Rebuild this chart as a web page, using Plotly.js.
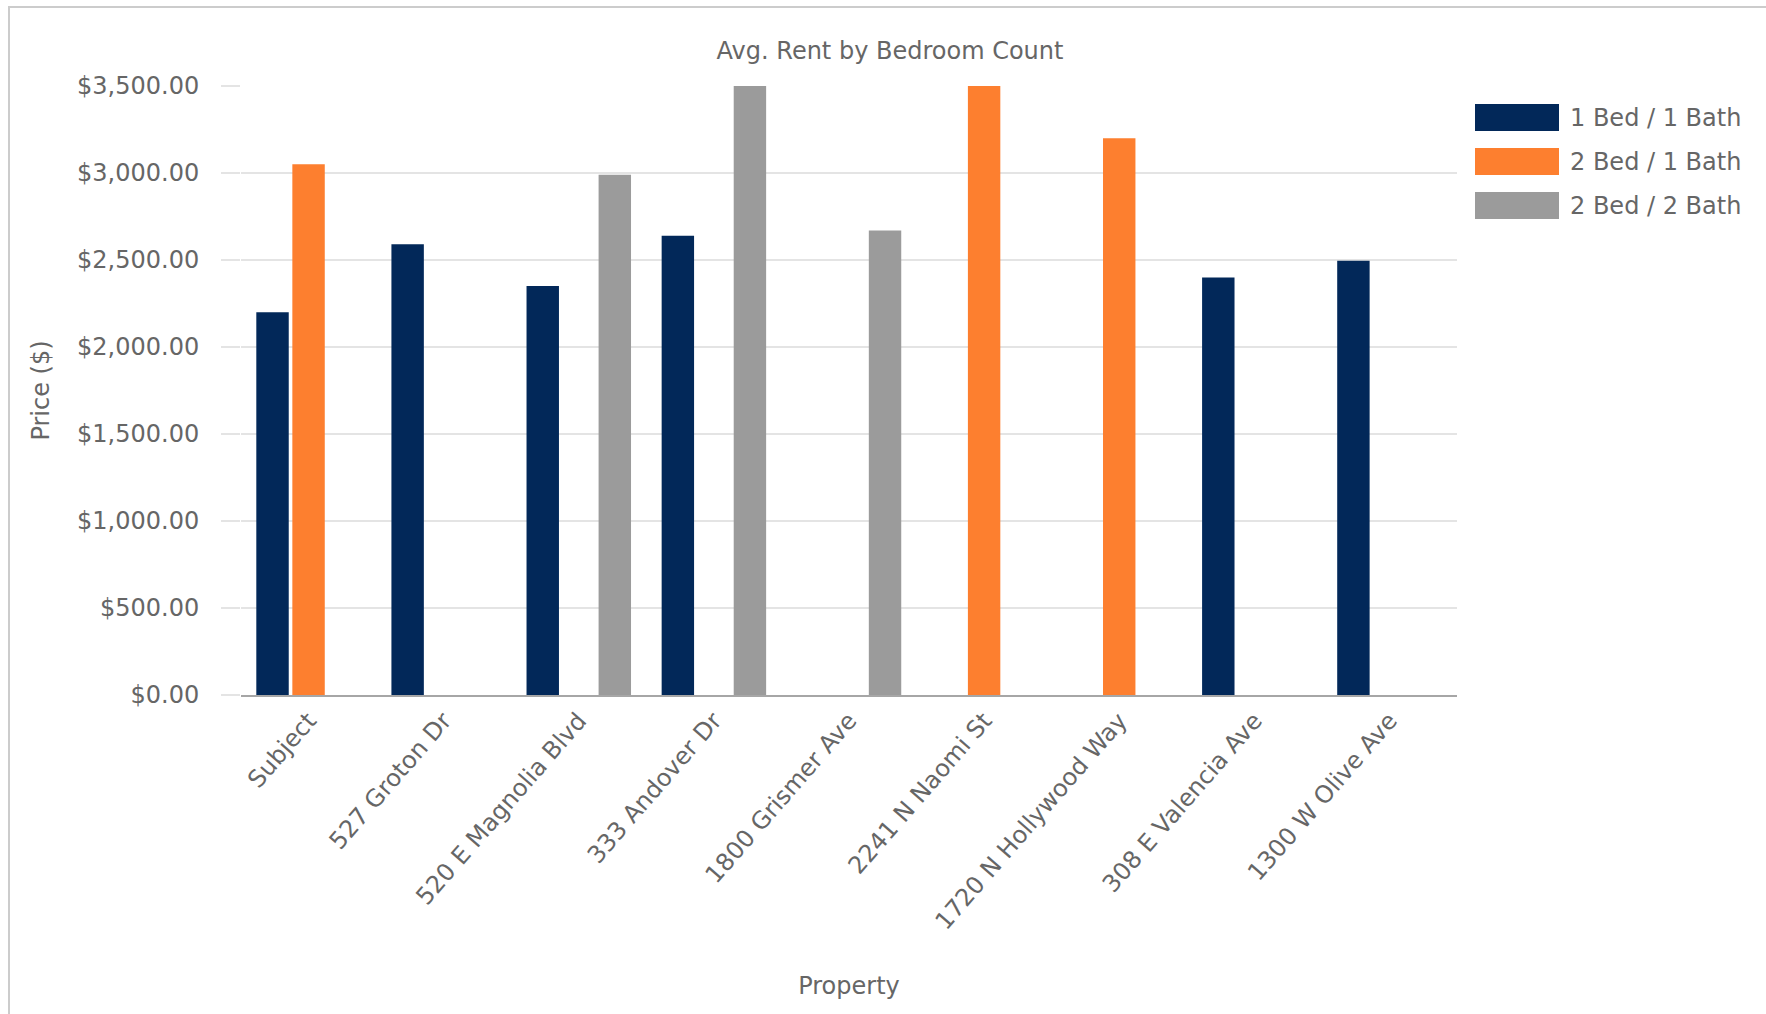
<!DOCTYPE html>
<html>
<head>
<meta charset="utf-8">
<script src="https://cdn.plot.ly/plotly-3.0.1.min.js"></script>
<style>
  html, body { margin: 0; padding: 0; background: #ffffff; }
  #chart { position: absolute; left: 0; top: 0; width: 1766px; height: 1014px; }
  #frame { position: absolute; left: 8px; top: 6px; width: 1800px; height: 1100px;
           border-top: 2px solid #cccccc; border-left: 2px solid #cccccc; pointer-events: none; }
</style>
</head>
<body>
<div id="chart"></div>
<div id="frame"></div>
<script>
// ---- data ----
const properties = ["Subject", "527 Groton Dr", "520 E Magnolia Blvd", "333 Andover Dr",
  "1800 Grismer Ave", "2241 N Naomi St", "1720 N Hollywood Way", "308 E Valencia Ave", "1300 W Olive Ave"];
const seriesNames = ["1 Bed / 1 Bath", "2 Bed / 1 Bath", "2 Bed / 2 Bath"];
const oneBedOneBath = [2200, 2590, 2350, 2640, null, null, null, 2400, 2495];
const twoBedOneBath = [3050, null, null, null, null, 3500, 3200, null, null];
const twoBedTwoBath = [null, null, 2990, 3500, 2670, null, null, null, null];
const seriesColors = ["#022859", "#fd7f2f", "#9b9b9b"];
const yTickValues = [0, 500, 1000, 1500, 2000, 2500, 3000, 3500];

const textColor = "#666666";
const fontFamily = "DejaVu Sans, Verdana, sans-serif";
const fs = 24;

const seriesValues = [oneBedOneBath, twoBedOneBath, twoBedTwoBath];
const traces = seriesValues.map((vals, i) => ({
  type: "bar",
  name: seriesNames[i],
  x: properties,
  y: vals,
  marker: { color: seriesColors[i] },
  hoverinfo: "x+y+name"
}));

// plot area in pixels
const W = 1766, H = 1014;
const mL = 241, mR = 309, mT = 86, mB = 319;
const pw = W - mL - mR, ph = H - mT - mB;
const px = x => (x - mL) / pw;
const py = y => (H - mB - y) / ph;

// custom legend (Chart.js-style wide boxes)
const shapes = [];
const annotations = [];
seriesNames.forEach((name, i) => {
  const cy = 117.5 + i * 44;
  shapes.push({
    type: "rect", xref: "paper", yref: "paper",
    x0: px(1475), x1: px(1559), y0: py(cy + 13.5), y1: py(cy - 13.5),
    fillcolor: seriesColors[i], line: { width: 0 }
  });
  annotations.push({
    xref: "paper", yref: "paper", x: px(1568), y: py(cy),
    xanchor: "left", yanchor: "middle", showarrow: false,
    text: name, font: { family: fontFamily, size: fs, color: textColor }
  });
});

const layout = {
  width: W, height: H,
  margin: { l: mL, r: mR, t: mT, b: mB, pad: 0 },
  paper_bgcolor: "#ffffff", plot_bgcolor: "#ffffff",
  font: { family: fontFamily, size: fs, color: textColor },
  title: {
    text: "Avg. Rent by Bedroom Count",
    font: { family: fontFamily, size: fs, color: textColor },
    xref: "container", yref: "container",
    x: 890 / W, xanchor: "center", y: 1 - 51 / H, yanchor: "middle"
  },
  barmode: "group",
  bargap: 0.2,
  bargroupgap: 0.1,
  showlegend: false,
  xaxis: {
    type: "category",
    tickangle: -49,
    tickfont: { family: fontFamily, size: fs, color: textColor },
    showgrid: false,
    showline: true, linecolor: "#a6a6a6", linewidth: 2,
    ticks: "", zeroline: false,
    automargin: false,
    title: { text: "Property", font: { family: fontFamily, size: fs, color: textColor }, standoff: 43 }
  },
  yaxis: {
    range: [0, 3500],
    tickvals: yTickValues,
    tickformat: "$,.2f",
    tickfont: { family: fontFamily, size: fs, color: textColor },
    showgrid: true, gridcolor: "#e4e4e4", gridwidth: 2,
    ticks: "outside", ticklen: 19, tickcolor: "#e4e4e4", tickwidth: 2,
    ticklabelstandoff: 17,
    showline: false, zeroline: false,
    automargin: false,
    title: { text: "Price ($)", font: { family: fontFamily, size: fs, color: textColor }, standoff: 20 }
  },
  shapes: shapes,
  annotations: annotations
};

Plotly.newPlot("chart", traces, layout, { displayModeBar: false, staticPlot: true });
</script>
</body>
</html>
